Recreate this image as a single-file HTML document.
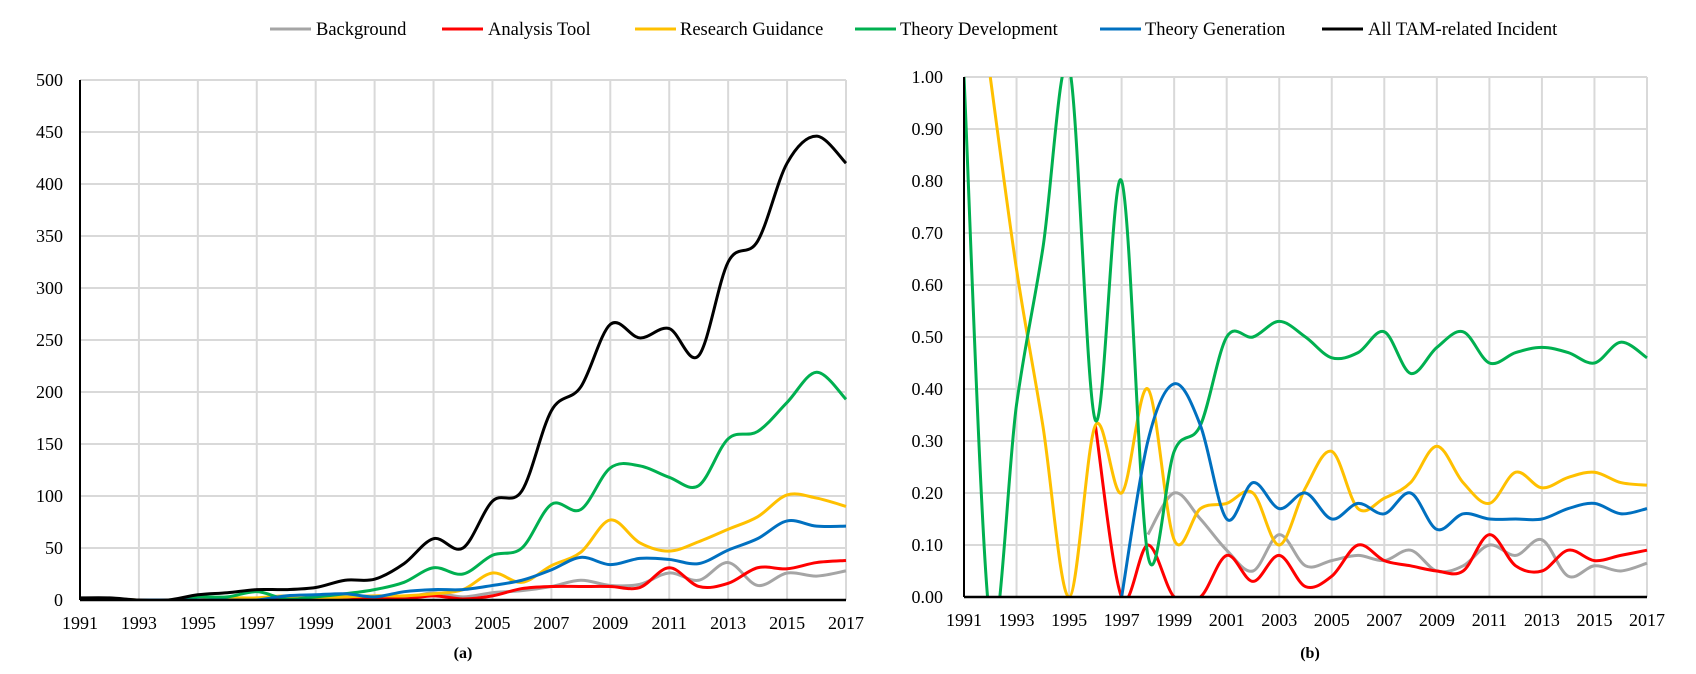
<!DOCTYPE html>
<html><head><meta charset="utf-8"><style>
body{margin:0;background:#fff;width:1696px;height:669px;overflow:hidden}
svg text{font-family:"Liberation Serif",serif;fill:#000}
</style></head><body>
<svg id="s" width="1696" height="669" xmlns="http://www.w3.org/2000/svg">
<defs><clipPath id="cr"><rect x="964" y="77" width="684" height="520"/></clipPath>
<clipPath id="cl"><rect x="80" y="60" width="767" height="541"/></clipPath></defs>
<g id="g"></g>
</svg>
<script>
var g=document.getElementById('g'),h='';
var C={bg:'#a5a5a5',at:'#ff0000',rg:'#ffc000',td:'#00b050',tg:'#0070c0',all:'#000000'};
function path(pts){var d='M'+pts[0][0]+','+pts[0][1];
for(var i=0;i<pts.length-1;i++){var p0=pts[i-1]||pts[i],p1=pts[i],p2=pts[i+1],p3=pts[i+2]||p2;var t=0.5/3;
d+=' C'+(p1[0]+(p2[0]-p0[0])*t)+','+(p1[1]+(p2[1]-p0[1])*t)+' '+(p2[0]-(p3[0]-p1[0])*t)+','+(p2[1]-(p3[1]-p1[1])*t)+' '+p2[0]+','+p2[1];}
return d;}
function chart(x0,x1,y0,y1,max,ticks,fmt,lblx,series,clip,start){
 var dx=(x1-x0)/26;
 for(var i=0;i<=26;i+=2){var x=x0+i*dx;h+='<line x1="'+x+'" y1="'+y1+'" x2="'+x+'" y2="'+y0+'" stroke="#d9d9d9" stroke-width="2"/>';
  h+='<text x="'+x+'" y="'+(y0+29)+'" font-size="18" text-anchor="middle">'+(1991+i)+'</text>';}
 for(var k=0;k<ticks.length;k++){var v=ticks[k],y=y0-(y0-y1)*v/max;
  if(v>0)h+='<line x1="'+x0+'" y1="'+y+'" x2="'+x1+'" y2="'+y+'" stroke="#d9d9d9" stroke-width="2"/>';
  h+='<text x="'+lblx+'" y="'+(y+6)+'" font-size="18" text-anchor="end">'+fmt(v)+'</text>';}
 h+='<g clip-path="url(#'+clip+')">';
 ['bg','at','rg','td','tg','all'].forEach(function(k){var s=series[k];if(!s)return;var pts=[];
  s.forEach(function(v,i){if(v!==null)pts.push([x0+(i+(start[k]||0))*dx,y0-(y0-y1)*v/max]);});
  h+='<path d="'+path(pts)+'" fill="none" stroke="'+C[k]+'" stroke-width="3"/>';});
 h+='</g>';
 h+='<line x1="'+x0+'" y1="'+y1+'" x2="'+x0+'" y2="'+y0+'" stroke="#000" stroke-width="2"/>';
 h+='<line x1="'+x0+'" y1="'+y0+'" x2="'+x1+'" y2="'+y0+'" stroke="#000" stroke-width="2.5"/>';
}
chart(80,846,600,80,500,[0,50,100,150,200,250,300,350,400,450,500],function(v){return v},63,{
 bg:[0,0,0,0,0,0,0,1,2,3,2,2,7,3,7,9,13,19,14,15,26,19,36,14,26,23,28],
 at:[0,0,0,0,0,2,0,1,0,0,2,1,4,1,4,11,13,13,13,12,31,13,16,31,30,36,38],
 rg:[1,1,0,0,0,2,2,4,1,3,4,4,6,10,26,17,33,46,77,55,47,56,68,80,101,98,90],
 td:[1,0,0,0,3,3,8,1,3,6,10,17,31,25,43,50,92,87,127,129,118,110,155,162,190,219,193],
 tg:[0,0,0,0,0,0,0,4,5,6,3,8,10,10,14,19,29,41,34,40,39,35,48,59,76,71,71],
 all:[2,2,0,0,5,7,10,10,12,19,20,35,59,50,95,105,182,205,265,252,261,235,325,345,420,446,420]
},'cl',{});
chart(964,1647,597,77,1,[0,.1,.2,.3,.4,.5,.6,.7,.8,.9,1],function(v){return v.toFixed(2)},943,{
 bg:[0.12,0.20,0.15,0.09,0.05,0.12,0.06,0.07,0.08,0.07,0.09,0.05,0.06,0.10,0.08,0.11,0.04,0.06,0.05,0.065],
 at:[0.33,0,0.10,0,0,0.08,0.03,0.08,0.02,0.04,0.10,0.07,0.06,0.05,0.05,0.12,0.06,0.05,0.09,0.07,0.08,0.09],
 rg:[1.0,0.63,0.33,0,0.33,0.20,0.40,0.11,0.17,0.18,0.20,0.10,0.21,0.28,0.17,0.19,0.22,0.29,0.22,0.18,0.24,0.21,0.23,0.24,0.22,0.215],
 td:[1.0,-0.05,0.37,0.67,1.02,0.34,0.80,0.08,0.28,0.33,0.50,0.50,0.53,0.50,0.46,0.47,0.51,0.43,0.48,0.51,0.45,0.47,0.48,0.47,0.45,0.49,0.46],
 tg:[0,0.30,0.41,0.33,0.15,0.22,0.17,0.20,0.15,0.18,0.16,0.20,0.13,0.16,0.15,0.15,0.15,0.17,0.18,0.16,0.17]
},'cr',{bg:7,at:5,rg:1,td:0,tg:6});
var L=[['bg','Background',270,316],['at','Analysis Tool',442,488],['rg','Research Guidance',635,680],['td','Theory Development',855,900],['tg','Theory Generation',1100,1145],['all','All TAM-related Incident',1322,1368]];
L.forEach(function(l){h+='<line x1="'+l[2]+'" y1="29" x2="'+(l[2]+41)+'" y2="29" stroke="'+C[l[0]]+'" stroke-width="3"/><text x="'+l[3]+'" y="35" font-size="18.5">'+l[1]+'</text>';});
h+='<text x="463" y="658" font-size="16" font-weight="bold" text-anchor="middle">(a)</text>';
h+='<text x="1310" y="658" font-size="16" font-weight="bold" text-anchor="middle">(b)</text>';
g.innerHTML=h;
</script>
</body></html>
